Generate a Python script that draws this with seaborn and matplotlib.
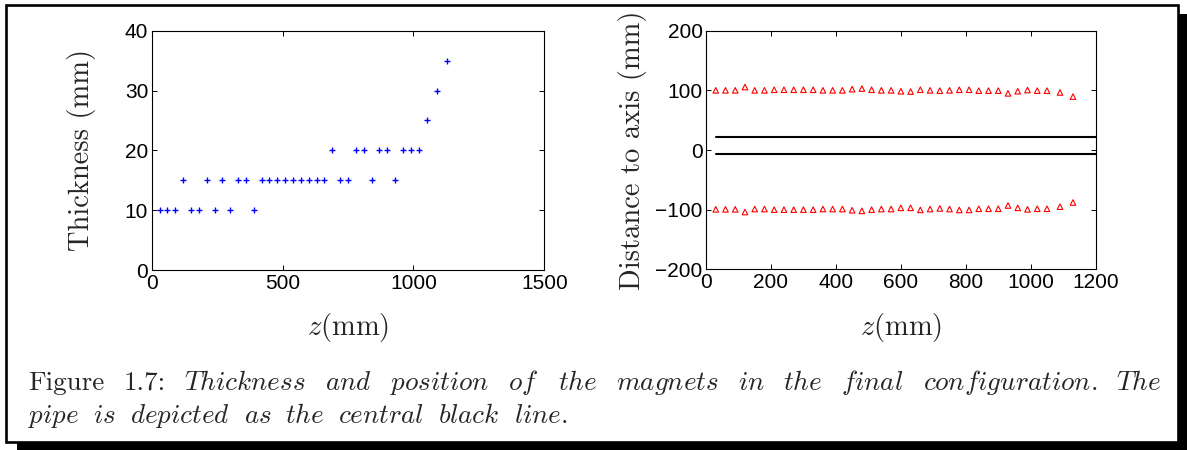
import matplotlib
matplotlib.use("Agg")
import matplotlib.pyplot as plt
import seaborn as sns
import numpy as np
import pandas as pd
from matplotlib.patches import Rectangle

# ---------------- data ----------------
z_pos = [30, 60, 90, 120, 150, 180, 210, 240, 270, 300, 330, 360, 390, 420,
         450, 480, 510, 540, 570, 600, 630, 660, 690, 720, 750, 780, 810, 840,
         870, 900, 930, 960, 990, 1020, 1050, 1090, 1130]
thickness = [10, 10, 10, 15, 10, 10, 15, 10, 15, 10, 15, 15, 10, 15,
             15, 15, 15, 15, 15, 15, 15, 15, 20, 15, 15, 20, 20, 15,
             20, 20, 15, 20, 20, 20, 25, 30, 35]
upper_dist = [100, 100, 100, 105.5, 100, 100, 101, 101, 101, 101, 101, 100, 100, 100,
              102, 103, 101, 100, 100, 98.5, 98, 101, 100, 99.5, 100, 101, 101, 99.5,
              99.5, 99.5, 95, 98.5, 100.5, 99.5, 99.5, 96.5, 89.5]
lower_dist = [-99.5, -99.5, -99.5, -104, -99, -99, -100, -100, -100, -100, -100, -99, -99, -99,
              -101, -102, -100, -99, -99, -97, -97, -100.5, -99, -98, -99, -100.5, -100.5, -98.5,
              -98.5, -98.5, -93, -97, -99.5, -98.5, -98.5, -95, -88]
pipe_z = [30, 1250]
pipe_top = [22.5, 22.5]
pipe_bottom = [-7.5, -7.5]

left_xticks = [0, 500, 1000, 1500]
left_yticks = [0, 10, 20, 30, 40]
right_xticks = [0, 200, 400, 600, 800, 1000, 1200]
right_yticks = [-200, -100, 0, 100, 200]

caption_line1 = ["Thickness", "and", "position", "of", "the", "magnets", "in",
                 "the", "final", "configuration.", "The"]
caption_line2 = ["pipe", "is", "depicted", "as", "the", "central", "black", "line."]

# ---------------- style ----------------
sns.set_style("white")
plt.rcParams["font.family"] = ["Liberation Sans", "DejaVu Sans"]
plt.rcParams["mathtext.fontset"] = "cm"
plt.rcParams["axes.unicode_minus"] = True

W, H = 1187, 450
fig = plt.figure(figsize=(W / 100, H / 100), dpi=100)
fig.patch.set_facecolor("white")

# page frame with shadow
def px_rect(x0, y0, x1, y1, **kw):
    return Rectangle((x0 / W, 1 - y1 / H), (x1 - x0) / W, (y1 - y0) / H,
                     transform=fig.transFigure, **kw)

fig.patches.append(px_rect(17, 14, 1187, 450, facecolor="black", edgecolor="none", zorder=-3))
fig.patches.append(px_rect(6, 5, 1178, 442, facecolor="white", edgecolor="black",
                           linewidth=1.9, zorder=-2))

ax1 = fig.add_axes([151.7 / W, 1 - 270 / H, 392.6 / W, 239.3 / H])
ax2 = fig.add_axes([706 / W, 1 - 269.3 / H, 389.7 / W, 238.6 / H])

df_left = pd.DataFrame({"z": z_pos, "t": thickness})
sns.scatterplot(data=df_left, x="z", y="t", ax=ax1, marker="+", color="#0000ff",
                s=22, linewidth=1.0, legend=False, zorder=3)

df_right = pd.DataFrame({"z": z_pos, "up": upper_dist, "lo": lower_dist})
for col in ["up", "lo"]:
    sns.scatterplot(data=df_right, x="z", y=col, ax=ax2, marker="^",
                    facecolor="none", edgecolor="#ff0000", s=16, linewidth=0.8,
                    legend=False, zorder=3)
df_pipe = pd.DataFrame({"z": pipe_z, "a": pipe_top, "b": pipe_bottom})
sns.lineplot(data=df_pipe, x="z", y="a", ax=ax2, color="black", linewidth=1.5)
sns.lineplot(data=df_pipe, x="z", y="b", ax=ax2, color="black", linewidth=1.5)

ax1.set_xlim(0, 1500); ax1.set_ylim(0, 40)
ax1.set_xticks(left_xticks); ax1.set_yticks(left_yticks)
ax2.set_xlim(0, 1200); ax2.set_ylim(-200, 200)
ax2.set_xticks(right_xticks); ax2.set_yticks(right_yticks)

for ax in (ax1, ax2):
    ax.set_facecolor("white")
    for sp in ax.spines.values():
        sp.set_visible(True)
        sp.set_color("black")
        sp.set_linewidth(0.8)
    ax.tick_params(direction="in", length=3.5, width=0.7, labelsize=15,
                   top=True, right=True, bottom=True, left=True, colors="black")
    ax.tick_params(axis="x", pad=3)
    ax.tick_params(axis="y", pad=2.5)
    ax.set_xlabel(r"$z$(mm)", family="cmr10", fontsize=20.5, labelpad=13)

ax1.set_ylabel("Thickness (mm)", family="cmr10", fontsize=20.5, labelpad=21)
ax2.set_ylabel("Distance to axis (mm)", family="cmr10", fontsize=20.5, labelpad=6)

# ---------------- caption (justified line 1) ----------------
fs_cap = 19.5
renderer = fig.canvas.get_renderer()

def make_words(words, prefix=None):
    objs = []
    if prefix is not None:
        for p in prefix:
            objs.append(fig.text(0, 0, p, family="cmr10", fontsize=fs_cap,
                                 ha="left", va="baseline"))
    for w in words:
        objs.append(fig.text(0, 0, r"$\mathit{" + w + "}$", fontsize=fs_cap,
                             ha="left", va="baseline"))
    return objs

def place(objs, x_start, x_end, y_base, justify=True, gap_px=None):
    widths = [o.get_window_extent(renderer).width for o in objs]
    if justify:
        gap = (x_end - x_start - sum(widths)) / (len(objs) - 1)
    else:
        gap = gap_px
    x = x_start
    for o, wd in zip(objs, widths):
        o.set_position((x / W, 1 - y_base / H))
        x += wd + gap
    return gap

line1 = make_words(caption_line1, prefix=["Figure", "1.7:"])
g = place(line1, 28, 1161, 390)
line2 = make_words(caption_line2)
place(line2, 28, None, 423, justify=False, gap_px=min(g, 14))

fig.savefig("out.png", dpi=100, facecolor="white")
